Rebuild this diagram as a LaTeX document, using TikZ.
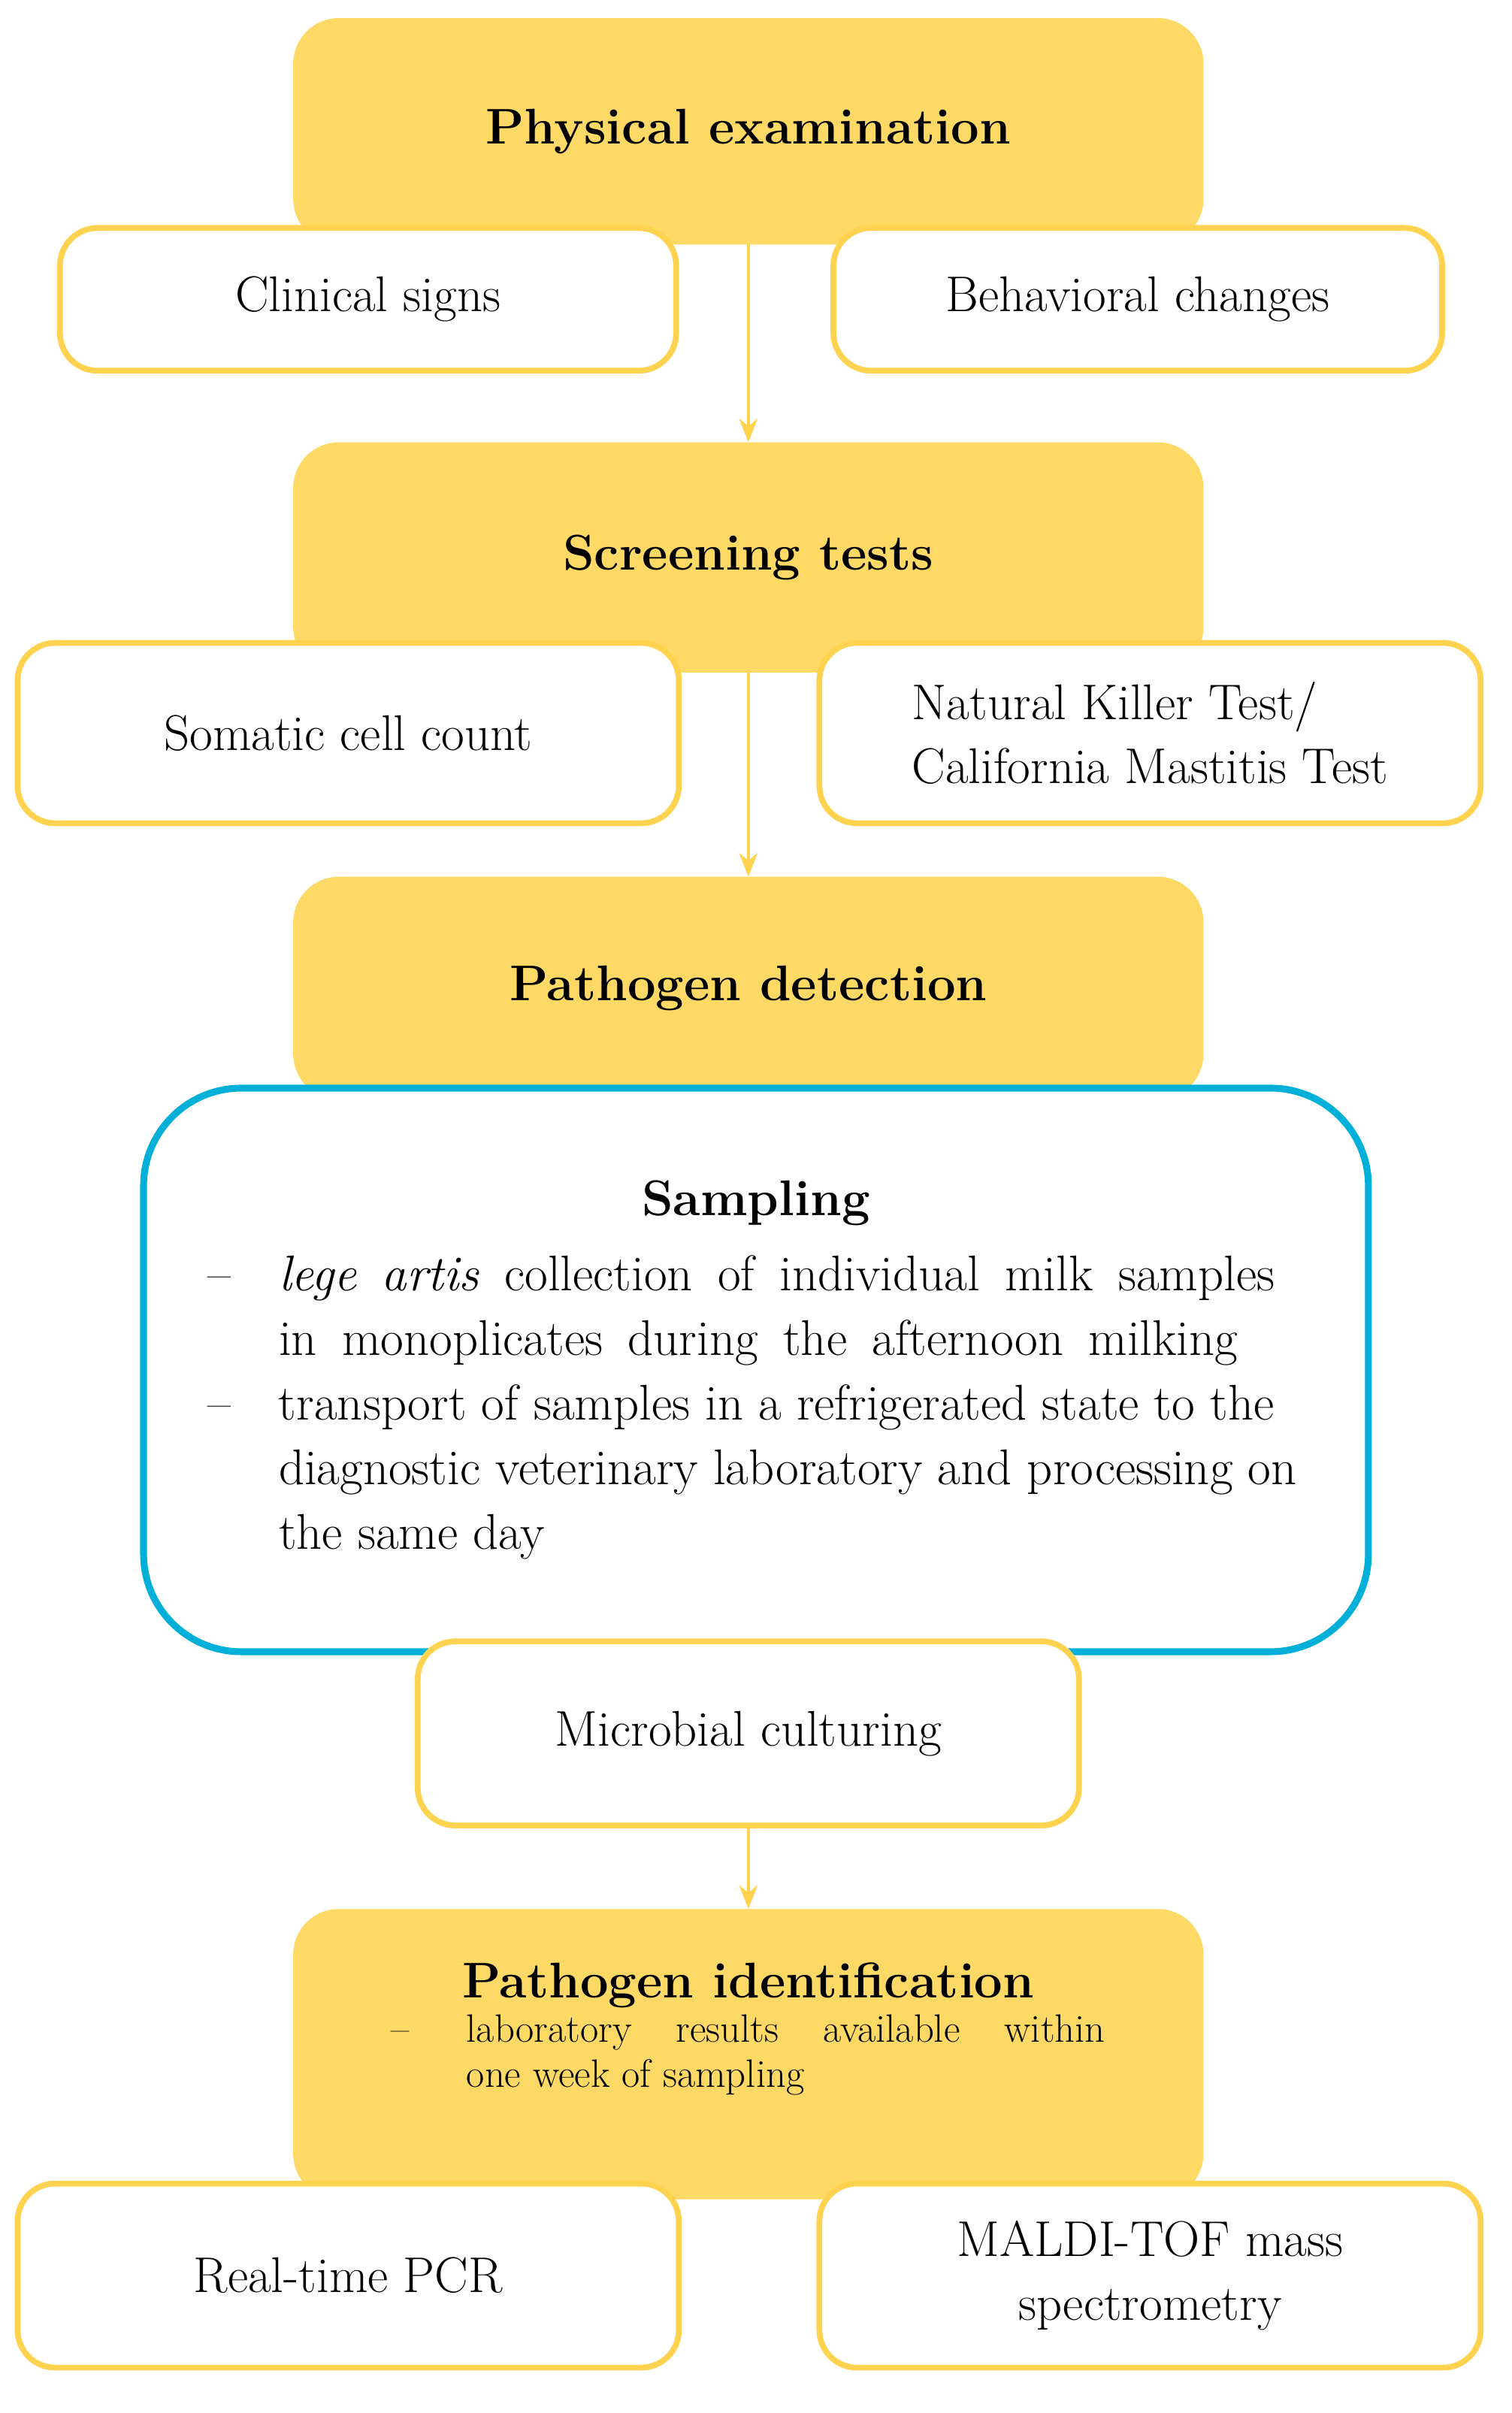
\documentclass[tikz,border=0pt]{standalone}
\usepackage{xcolor}
\usepackage{tikz}
\usetikzlibrary{positioning, arrows.meta}
\definecolor{gold}{RGB}{255, 217, 102}
\definecolor{goldline}{RGB}{255, 210, 80}
\definecolor{cyanline}{RGB}{0, 176, 216}

\begin{document}
\begin{tikzpicture}[x=0.02032cm, y=-0.02032cm,
        header/.style={rectangle, draw=gold, fill=gold, rounded corners=0.6cm, minimum width=12.1cm, align=center, font=\fontsize{19}{24}\selectfont\bfseries},
        item/.style={rectangle, draw=goldline, fill=white, line width=2.2pt, rounded corners=0.5cm, align=center, font=\fontsize{19}{24}\selectfont},
        flowarrow/.style={-{Stealth[length=9pt,width=7pt]}, goldline, line width=1.2pt}
    ]
        \useasboundingbox (0,0) rectangle (990,1580);

        % physical examination
        \node (exam) [header, minimum height=3cm] at (490,86) {Physical examination};
        \node (clinical) [item, minimum width=8.2cm, minimum height=1.9cm] at (241,196) {Clinical signs};
        \node (behavior) [item, minimum width=8.1cm, minimum height=1.9cm] at (745,196) {Behavioral changes};

        % screening
        \node (screen) [header, minimum height=3.05cm] at (490,365) {Screening tests};
        \node (somatic) [item, minimum width=8.8cm, minimum height=2.4cm] at (228,480) {Somatic cell count};
        \node (killer) [item, minimum width=8.8cm, minimum height=2.4cm, align=left] at (753,480) {Natural Killer Test/\\California Mastitis Test};

        % detection
        \node (detect) [header, minimum height=2.95cm] at (490,647) {Pathogen detection};
        \node (sampling) [rectangle, draw=cyanline, fill=white, line width=2.6pt, rounded corners=1.3cm, minimum width=16.3cm, minimum height=7.5cm, text width=14.6cm, align=justify, font=\fontsize{19}{24.5}\selectfont] at (495,897) {%
            \centering\textbf{Sampling}\par\vspace{4pt}
            \raggedright
            \hangindent=0.95cm\hangafter=1\noindent\makebox[0.95cm][l]{--}\spaceskip=0.5em plus 2em\textit{lege artis} collection of individual milk samples in monoplicates during the afternoon milking\par
            \spaceskip=0pt
            \hangindent=0.95cm\hangafter=1\noindent\makebox[0.95cm][l]{--}transport of samples in a refrigerated state to the diagnostic veterinary laboratory and processing on the same day\par};
        \node (culture) [item, minimum width=8.8cm, minimum height=2.45cm] at (490,1135) {Microbial culturing};

        % identification
        \node (ident) [header, minimum height=3.85cm] at (490,1345) {Pathogen identification\\[2pt]
            \parbox{9.5cm}{\fontsize{15}{17}\selectfont\mdseries\hangindent=1cm\hangafter=1\noindent\makebox[1cm][l]{--}laboratory\ \ \ results\ \ \ available\ \ \ within one week of sampling}\\[6pt]};
        \node (pcr) [item, minimum width=8.8cm, minimum height=2.45cm] at (228,1490) {Real-time PCR};
        \node (maldi) [item, minimum width=8.8cm, minimum height=2.45cm] at (753,1490) {MALDI-TOF mass\\spectrometry};

        \draw[flowarrow] (exam.south) -- (screen.north);
        \draw[flowarrow] (screen.south) -- (detect.north);
        \draw[flowarrow] (culture.south) -- (ident.north);
    \end{tikzpicture}
\end{document}
